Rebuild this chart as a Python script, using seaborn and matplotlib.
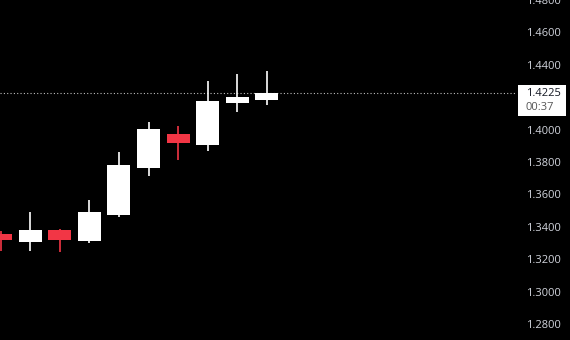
import numpy as np
import pandas as pd
import matplotlib
matplotlib.use("Agg")
import matplotlib.pyplot as plt
import seaborn as sns
from matplotlib.patches import Rectangle
from matplotlib.transforms import blended_transform_factory, ScaledTranslation

# ---- data ----
opens = [1.3358, 1.3304, 1.3377, 1.3309, 1.3475, 1.3761, 1.3975, 1.3907, 1.4162, 1.4185]
closes = [1.3315, 1.3377, 1.3321, 1.3494, 1.3784, 1.4006, 1.3915, 1.4179, 1.4204, 1.4225]
highs = [1.3375, 1.3489, 1.3389, 1.3568, 1.3864, 1.4049, 1.4025, 1.4302, 1.4346, 1.4364]
lows = [1.3253, 1.3249, 1.3243, 1.3301, 1.3463, 1.3712, 1.3810, 1.3866, 1.4107, 1.4154]
y_ticks = [1.28, 1.30, 1.32, 1.34, 1.36, 1.38, 1.40, 1.42, 1.44, 1.46, 1.48]
last_price = 1.4225
countdown = "00:37"

UP = "#ffffff"
DOWN = "#f23645"
BG = "#000000"
TXT = "#d1d4dc"

sns.set_theme(style="dark", rc={"axes.facecolor": BG, "figure.facecolor": BG})
plt.rcParams["font.family"] = ["Open Sans", "DejaVu Sans"]

df = pd.DataFrame({"open": opens, "close": closes, "high": highs, "low": lows})
df["x"] = np.arange(len(df))
df["up"] = df["close"] >= df["open"]
df["color"] = np.where(df["up"], UP, DOWN)
df["bottom"] = df[["open", "close"]].min(axis=1)
df["height"] = (df["close"] - df["open"]).abs()

fig = plt.figure(figsize=(5.7, 3.4), dpi=100)
ax = fig.add_axes([0, 0, 515 / 570, 1])
ax.set_facecolor(BG)

# wicks
ax.vlines(df["x"], df["low"], df["high"], colors=df["color"], linewidth=1.2, zorder=2)
# bodies
ax.bar(df["x"], df["height"], bottom=df["bottom"], width=0.78, color=df["color"],
       edgecolor=df["color"], linewidth=0, zorder=3)

spacing_px = 29.6
xmin = -0.5 / spacing_px
ax.set_xlim(xmin, xmin + 515 / spacing_px)
px_per_unit = 32.4 / 0.02
ax.set_ylim(1.40 - 210.5 / px_per_unit, 1.40 + 129.5 / px_per_unit)

ax.set_xticks([])
ax.yaxis.tick_right()
ax.set_yticks(y_ticks)
ax.set_yticklabels([f"{v:.4f}" for v in y_ticks])
ax.tick_params(axis="y", length=0, pad=8.2, labelsize=8, labelcolor=TXT)
for s in ax.spines.values():
    s.set_visible(False)
ax.grid(False)

# last price line
ax.axhline(last_price, color="#bfbfbf", linestyle=(0, (1, 2)), linewidth=0.8, zorder=1)

# price label box
blend = blended_transform_factory(ax.transAxes, ax.transData)
off = ScaledTranslation(2.7 / 100, -22.7 / 100, fig.dpi_scale_trans)
rect = Rectangle((1.0, last_price), 48 / 515, 31.3 / px_per_unit,
                 transform=blend + off, facecolor="white", edgecolor="none",
                 clip_on=False, zorder=5)
ax.add_patch(rect)
ax.annotate(f"{last_price:.4f}", xy=(1.0, last_price), xycoords=blend,
            xytext=(7.7, 0), textcoords="offset points", ha="left", va="center",
            fontsize=8, color="#131722", annotation_clip=False, zorder=6)
ax.annotate(countdown, xy=(1.0, last_price), xycoords=blend,
            xytext=(7.7, -10.4), textcoords="offset points", ha="left", va="center",
            fontsize=8, color="#555555", annotation_clip=False, zorder=6)

fig.savefig("out.png", dpi=100, facecolor=BG)
